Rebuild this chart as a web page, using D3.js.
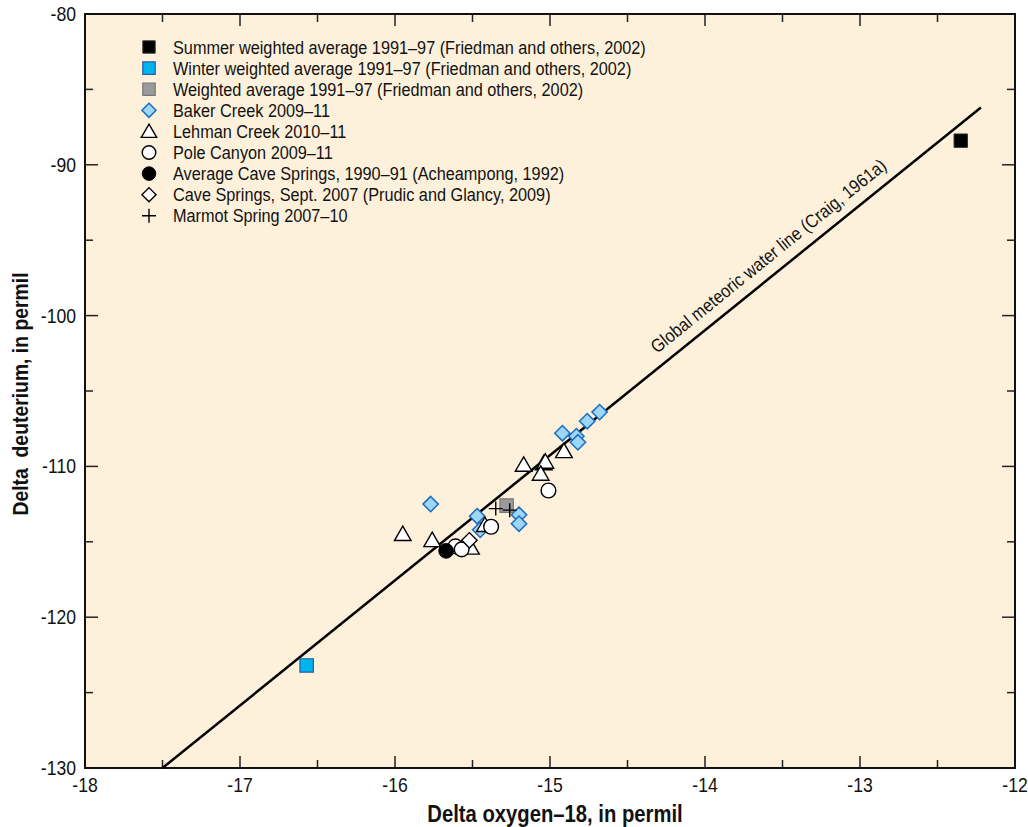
<!DOCTYPE html>
<html><head><meta charset="utf-8">
<script src="https://cdn.jsdelivr.net/npm/d3@7"></script>
<style>
html,body{margin:0;padding:0;background:#fff;}
svg text{font-family:"Liberation Sans Narrow","Arial Narrow","Liberation Sans",sans-serif;}
</style></head>
<body>
<svg id="chart" width="1028" height="827"></svg>
<script>
// ---- data ----
const xTicks = [-18, -17, -16, -15, -14, -13, -12];
const yTicks = [-80, -90, -100, -110, -120, -130];
const xMinor = [-17.5, -16.5, -15.5, -14.5, -13.5, -12.5];
const yMinor = [-85, -95, -105, -115, -125];

const gmwlX = [-17.5, -12.22];
const gmwlY = [-130, -86.2];

const summerX = [-12.35], summerY = [-88.4];
const winterX = [-16.57], winterY = [-123.2];
const weightedX = [-15.28], weightedY = [-112.6];
const bakerX = [-14.68, -14.76, -14.92, -14.83, -14.82, -15.77, -15.47, -15.20, -15.20, -15.45];
const bakerY = [-106.4, -107.0, -107.8, -108.0, -108.4, -112.5, -113.3, -113.2, -113.8, -114.2];
const lehmanX = [-14.91, -15.17, -15.04, -15.03, -15.06, -15.95, -15.76, -15.42, -15.51];
const lehmanY = [-109.0, -109.9, -109.8, -109.7, -110.5, -114.5, -114.9, -113.9, -115.4];
const poleX = [-15.01, -15.38, -15.61, -15.57];
const poleY = [-111.6, -114.0, -115.3, -115.5];
const acheampongX = [-15.67], acheampongY = [-115.6];
const prudicX = [-15.52], prudicY = [-114.9];
const marmotX = [-15.35, -15.26];
const marmotY = [-112.8, -112.9];

const legendLabels = [
  "Summer weighted average 1991\u201397 (Friedman and others, 2002)",
  "Winter weighted average 1991\u201397 (Friedman and others, 2002)",
  "Weighted average 1991\u201397 (Friedman and others, 2002)",
  "Baker Creek 2009\u201311",
  "Lehman Creek 2010\u201311",
  "Pole Canyon 2009\u201311",
  "Average Cave Springs, 1990\u201391 (Acheampong, 1992)",
  "Cave Springs, Sept. 2007 (Prudic and Glancy, 2009)",
  "Marmot Spring 2007\u201310"
];

// ---- layout ----
const L = 85, R = 1015, T = 14, B = 768;
const SX = 0.88; // horizontal condensing of text
const svg = d3.select("#chart");
const x = d3.scaleLinear().domain([-18, -12]).range([L, R]);
const y = d3.scaleLinear().domain([-130, -80]).range([B, T]);

function ctext(g, tx, ty, str, size, anchor, extra) {
  return g.append("text")
    .attr("transform", `translate(${tx},${ty}) ${extra || ""} scale(${SX},1)`)
    .attr("font-size", size).attr("fill", "#111")
    .attr("text-anchor", anchor || "start").text(str);
}

svg.append("rect").attr("x", L).attr("y", T).attr("width", R - L).attr("height", B - T)
  .attr("fill", "#FEF1DC");

// ticks (inward)
const tg = svg.append("g").attr("stroke", "#222").attr("stroke-width", 1.5);
xTicks.slice(1, -1).forEach(v => {
  tg.append("line").attr("x1", x(v)).attr("x2", x(v)).attr("y1", B).attr("y2", B - 12);
  tg.append("line").attr("x1", x(v)).attr("x2", x(v)).attr("y1", T).attr("y2", T + 12);
});
xMinor.forEach(v => {
  tg.append("line").attr("x1", x(v)).attr("x2", x(v)).attr("y1", B).attr("y2", B - 8);
  tg.append("line").attr("x1", x(v)).attr("x2", x(v)).attr("y1", T).attr("y2", T + 8);
});
yTicks.slice(1, -1).forEach(v => {
  tg.append("line").attr("y1", y(v)).attr("y2", y(v)).attr("x1", L).attr("x2", L + 13);
  tg.append("line").attr("y1", y(v)).attr("y2", y(v)).attr("x1", R).attr("x2", R - 13);
});
yMinor.forEach(v => {
  tg.append("line").attr("y1", y(v)).attr("y2", y(v)).attr("x1", L).attr("x2", L + 8);
  tg.append("line").attr("y1", y(v)).attr("y2", y(v)).attr("x1", R).attr("x2", R - 8);
});

svg.append("rect").attr("x", L).attr("y", T).attr("width", R - L).attr("height", B - T)
  .attr("fill", "none").attr("stroke", "#111").attr("stroke-width", 2);

// tick labels
const xl = svg.append("g");
xTicks.forEach(d => ctext(xl, x(d), B + 24, d, 20, "middle"));
const yl = svg.append("g");
yTicks.forEach(d => ctext(yl, L - 9, y(d) + 7, d, 20, "end"));

// axis titles
ctext(svg, 555, 822, "Delta oxygen\u201318, in permil", 23, "middle").attr("font-weight", "bold");
ctext(svg, 28, 394, "Delta  deuterium, in permil", 22, "middle", "rotate(-90)")
  .attr("font-weight", "bold").style("white-space", "pre");

// GMWL line
svg.append("line").attr("x1", x(gmwlX[0])).attr("y1", y(gmwlY[0]))
  .attr("x2", x(gmwlX[1])).attr("y2", y(gmwlY[1]))
  .attr("stroke", "#000").attr("stroke-width", 2.5);
const ang = Math.atan2(y(gmwlY[1]) - y(gmwlY[0]), x(gmwlX[1]) - x(gmwlX[0])) * 180 / Math.PI;
ctext(svg, 657, 354, "Global meteoric water line (Craig, 1961a)", 18.5, "start", `rotate(${ang})`);

// marker styles
const styles = {
  summer:   {type: d3.symbolSquare, size: 180, fill: "#000", stroke: "#333", sw: 1},
  winter:   {type: d3.symbolSquare, size: 180, fill: "#00B4EE", stroke: "#1F5FA8", sw: 1.2},
  weighted: {type: d3.symbolSquare, size: 180, fill: "#9A9A9C", stroke: "#777", sw: 1.2},
  baker:    {type: d3.symbolDiamond2, size: 150, fill: "#9ED6F7", stroke: "#1C6CC0", sw: 1.5},
  lehman:   {type: d3.symbolTriangle, size: 120, fill: "#fff", stroke: "#000", sw: 1.4},
  pole:     {type: d3.symbolCircle, size: 170, fill: "#fff", stroke: "#000", sw: 1.4},
  ach:      {type: d3.symbolCircle, size: 170, fill: "#000", stroke: "#000", sw: 1},
  prudic:   {type: d3.symbolDiamond2, size: 150, fill: "#fff", stroke: "#000", sw: 1.4},
  marmot:   {type: null, size: 0, fill: "none", stroke: "#000", sw: 1.4}
};

function plus(sel, cx, cy, r) {
  sel.append("path").attr("d", `M${cx - r},${cy}H${cx + r}M${cx},${cy - r}V${cy + r}`)
    .attr("stroke", "#000").attr("stroke-width", 1.4).attr("fill", "none");
}

function drawSeries(xs, ys, st) {
  const g = svg.append("g");
  xs.forEach((v, i) => {
    const px = x(v), py = y(ys[i]);
    if (st === styles.marmot) { plus(g, px, py, 7); return; }
    const dy = st.type === d3.symbolTriangle ? 1.5 : 0;
    g.append("path").attr("d", d3.symbol().type(st.type).size(st.size)())
      .attr("transform", `translate(${px},${py + dy})`)
      .attr("fill", st.fill).attr("stroke", st.stroke).attr("stroke-width", st.sw);
  });
}

drawSeries(bakerX, bakerY, styles.baker);
drawSeries(lehmanX, lehmanY, styles.lehman);
drawSeries(poleX, poleY, styles.pole);
drawSeries(prudicX, prudicY, styles.prudic);
drawSeries(acheampongX, acheampongY, styles.ach);
drawSeries(weightedX, weightedY, styles.weighted);
drawSeries(marmotX, marmotY, styles.marmot);
drawSeries(summerX, summerY, styles.summer);
drawSeries(winterX, winterY, styles.winter);

// legend
const legendStyles = [styles.summer, styles.winter, styles.weighted, styles.baker, styles.lehman,
  styles.pole, styles.ach, styles.prudic, styles.marmot];
const lg = svg.append("g");
legendLabels.forEach((lab, i) => {
  const ly = 47 + i * 21.1;
  const st = legendStyles[i];
  if (st === styles.marmot) plus(lg, 149, ly, 7);
  else {
    const dy = st.type === d3.symbolTriangle ? 1.5 : 0;
    lg.append("path").attr("d", d3.symbol().type(st.type).size(st.size * 0.85)())
      .attr("transform", `translate(149,${ly + dy})`)
      .attr("fill", st.fill).attr("stroke", st.stroke).attr("stroke-width", st.sw);
  }
  ctext(lg, 173, ly + 6.5, lab, 18.5, "start");
});
</script>
</body></html>
